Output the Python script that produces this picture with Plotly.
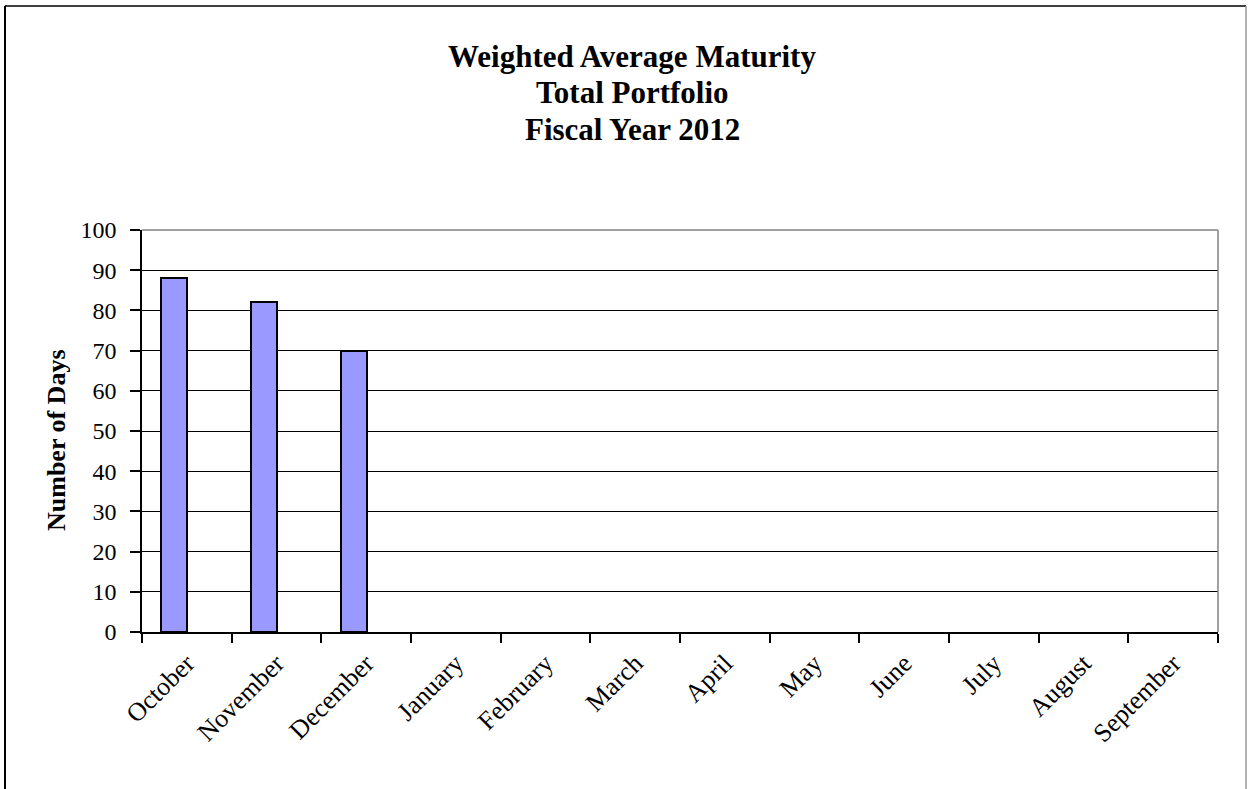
import plotly.graph_objects as go

# Weighted average maturity (days) by fiscal month
months = ["October", "November", "December", "January", "February", "March",
          "April", "May", "June", "July", "August", "September"]
days = [88, 82, 70, None, None, None, None, None, None, None, None, None]
title_lines = ["Weighted Average Maturity", "Total Portfolio", "Fiscal Year 2012"]
y_ticks = list(range(0, 101, 10))

SERIF = "Liberation Serif, Times New Roman, serif"

# plot-area geometry in pixels, used to place paper-referenced decorations
L, R, T, B = 142, 1218, 230, 632
W, H = R - L, B - T


def px_x(p):
    return (p - L) / W


def px_y(p):
    return (B - p) / H


fig = go.Figure()
fig.add_trace(go.Bar(
    x=months, y=days,
    width=0.29, offset=-0.284,
    marker=dict(color="#9999FF", line=dict(color="black", width=2)),
    showlegend=False,
))

annotations = []
for line, py in zip(title_lines, [57, 93, 129]):
    annotations.append(dict(
        text=f"<b>{line}</b>", xref="paper", yref="paper",
        x=px_x(632), y=px_y(py), xanchor="center", yanchor="middle",
        showarrow=False, font=dict(family=SERIF, size=31, color="black"),
    ))
annotations.append(dict(
    text="<b>Number of Days</b>", xref="paper", yref="paper",
    x=px_x(56), y=px_y(440), xanchor="center", yanchor="middle", textangle=-90,
    showarrow=False, font=dict(family=SERIF, size=26, color="black"),
))

shapes = [
    # gray top and right edges of the plot area
    dict(type="line", xref="paper", yref="paper", x0=0, x1=1, y0=1, y1=1,
         line=dict(color="#808080", width=1.5)),
    dict(type="line", xref="paper", yref="paper", x0=1, x1=1, y0=0, y1=1,
         line=dict(color="#808080", width=1.5)),
    # outer chart frame
    dict(type="line", xref="paper", yref="paper",
         x0=px_x(5), x1=px_x(5), y0=px_y(6), y1=px_y(800),
         line=dict(color="black", width=2)),
    dict(type="line", xref="paper", yref="paper",
         x0=px_x(5), x1=px_x(1246), y0=px_y(6), y1=px_y(6),
         line=dict(color="black", width=1.5)),
    dict(type="line", xref="paper", yref="paper",
         x0=px_x(1246), x1=px_x(1246), y0=px_y(6), y1=px_y(800),
         line=dict(color="#999999", width=1.5)),
]

fig.update_layout(
    width=1249, height=789,
    margin=dict(l=L, r=1249 - R, t=T, b=789 - B, pad=0),
    paper_bgcolor="white", plot_bgcolor="white",
    font=dict(family=SERIF, color="black"),
    annotations=annotations, shapes=shapes,
    bargap=0,
)
fig.update_xaxes(
    type="category", categoryorder="array", categoryarray=months,
    showline=True, linecolor="black", linewidth=1.5,
    ticks="outside", tickson="boundaries", ticklen=9, tickcolor="black", tickwidth=1.5,
    tickangle=-45, tickfont=dict(family=SERIF, size=26, color="black"),
    ticklabelstandoff=4,
    showgrid=False,
)
fig.update_yaxes(
    range=[0, 100], tickvals=y_ticks,
    showline=True, linecolor="black", linewidth=1.5,
    ticks="outside", ticklen=10, tickcolor="black", tickwidth=1.5,
    tickfont=dict(family=SERIF, size=24, color="black"),
    ticklabelstandoff=9,
    showgrid=True, gridcolor="black", gridwidth=1, zeroline=False,
)

fig.write_html("out.html")
